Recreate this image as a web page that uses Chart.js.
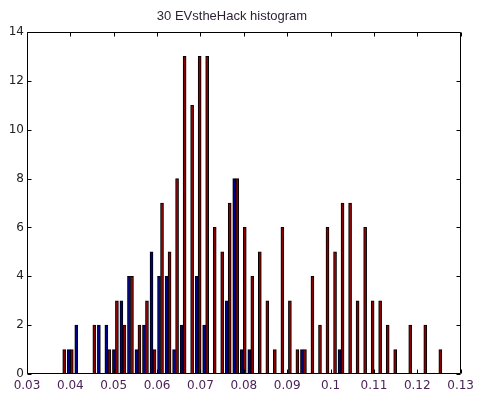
<!DOCTYPE html>
<html>
<head>
<meta charset="utf-8">
<title>30 EVstheHack histogram</title>
<script src="https://cdn.jsdelivr.net/npm/chart.js@4.4.1/dist/chart.umd.min.js"></script>
<style>
  html, body { margin: 0; padding: 0; background: #fff; }
  #wrap { width: 479px; height: 401px; position: relative; }
</style>
</head>
<body>
<div id="wrap"><canvas id="histChart"></canvas></div>
<script>
// Bin centres (shared by both series)
const binCenters = [
  0.03824, 0.03998, 0.04171, 0.04345, 0.04518, 0.04692, 0.04865, 0.05039, 0.05212, 0.05386,
  0.05559, 0.05732, 0.05906, 0.06079, 0.06253, 0.06426, 0.06600, 0.06773, 0.06947, 0.07120,
  0.07294, 0.07467, 0.07640, 0.07814, 0.07987, 0.08161, 0.08334, 0.08508, 0.08681, 0.08855,
  0.09028, 0.09201, 0.09375, 0.09548, 0.09722, 0.09895, 0.10069, 0.10242, 0.10416, 0.10589,
  0.10763, 0.10936, 0.11109, 0.11283, 0.11456, 0.11630, 0.11803, 0.11977, 0.12150, 0.12324,
  0.12497
];

// Counts per bin
const blueCounts = [
  0, 1, 2, 0, 0, 2, 2, 1, 3, 4,
  1, 2, 5, 4, 4, 1, 2, 0, 4, 2,
  0, 0, 3, 8, 1, 1, 0, 0, 0, 0,
  0, 0, 1, 0, 0, 0, 0, 1, 0, 0,
  0, 0, 0, 0, 0, 0, 0, 0, 0, 0,
  0
];
const redCounts = [
  1, 1, 0, 0, 2, 0, 1, 3, 2, 4,
  2, 3, 1, 7, 5, 8, 13, 11, 13, 13,
  6, 5, 7, 8, 6, 4, 5, 3, 1, 6,
  3, 1, 1, 4, 2, 6, 5, 7, 7, 3,
  6, 3, 3, 2, 1, 0, 2, 0, 2, 0,
  1
];

const xTicks = [0.03, 0.04, 0.05, 0.06, 0.07, 0.08, 0.09, 0.1, 0.11, 0.12, 0.13];
const yTicks = [0, 2, 4, 6, 8, 10, 12, 14];

// Box around the plot with short inward ticks on all four sides
const boxTicks = {
  id: 'boxTicks',
  afterDraw(chart) {
    const { ctx, chartArea: a, scales } = chart;
    const L = Math.round(a.left) + 0.5, R = Math.round(a.right) - 0.5;
    const T = Math.round(a.top) + 0.5, B = Math.round(a.bottom) - 0.5;
    const len = 4;
    ctx.save();
    ctx.strokeStyle = '#000';
    ctx.lineWidth = 1;
    ctx.beginPath();
    ctx.rect(L, T, R - L, B - T);
    scales.x.ticks.forEach(t => {
      const px = Math.round(scales.x.getPixelForValue(t.value)) + 0.5;
      ctx.moveTo(px, B); ctx.lineTo(px, B - len);
      ctx.moveTo(px, T); ctx.lineTo(px, T + len);
    });
    scales.y.ticks.forEach(t => {
      const py = Math.round(scales.y.getPixelForValue(t.value)) + 0.5;
      ctx.moveTo(L, py); ctx.lineTo(L + len, py);
      ctx.moveTo(R, py); ctx.lineTo(R - len, py);
    });
    ctx.stroke();
    ctx.restore();
  }
};

const ctx = document.getElementById('histChart');

new Chart(ctx, {
  type: 'bar',
  data: {
    datasets: [{
      label: 'blue',
      data: binCenters.map((c, i) => ({ x: c, y: blueCounts[i] })),
      backgroundColor: '#00008a',
      borderColor: '#000',
      borderWidth: 1,
      barThickness: 3
    }, {
      label: 'red',
      data: binCenters.map((c, i) => ({ x: c, y: redCounts[i] })),
      backgroundColor: '#8a0000',
      borderColor: '#000',
      borderWidth: 1,
      barThickness: 3
    }]
  },
  options: {
    responsive: true,
    maintainAspectRatio: false,
    animation: false,
    layout: { padding: { left: 0, right: 15, top: 0, bottom: 0 } },
    plugins: {
      legend: { display: false },
      tooltip: { enabled: false },
      title: {
        display: true,
        text: '30 EVstheHack histogram',
        color: '#2b1f33',
        font: { family: 'Liberation Sans, Arial, sans-serif', size: 13, weight: 'normal' },
        padding: { top: 9, bottom: 7.4 }
      }
    },
    scales: {
      x: {
        type: 'linear',
        min: 0.03,
        max: 0.13,
        offset: false,
        grid: { display: false, drawTicks: false },
        border: { display: false },
        afterBuildTicks: scale => { scale.ticks = xTicks.map(v => ({ value: v })); },
        afterFit: scale => { scale.height = 27; },
        ticks: {
          padding: 5,
          color: '#4a2458',
          maxRotation: 0,
          autoSkip: false,
          font: { family: 'DejaVu Sans, sans-serif', size: 12 },
          callback: v => String(parseFloat(Number(v).toFixed(2)))
        }
      },
      y: {
        min: 0,
        max: 14,
        grid: { display: false, drawTicks: false },
        border: { display: false },
        afterBuildTicks: scale => { scale.ticks = yTicks.map(v => ({ value: v })); },
        afterFit: scale => { scale.width = 27; },
        ticks: {
          padding: 3,
          color: '#222',
          autoSkip: false,
          font: { family: 'DejaVu Sans, sans-serif', size: 12 }
        }
      }
    }
  },
  plugins: [boxTicks]
});
</script>
</body>
</html>
